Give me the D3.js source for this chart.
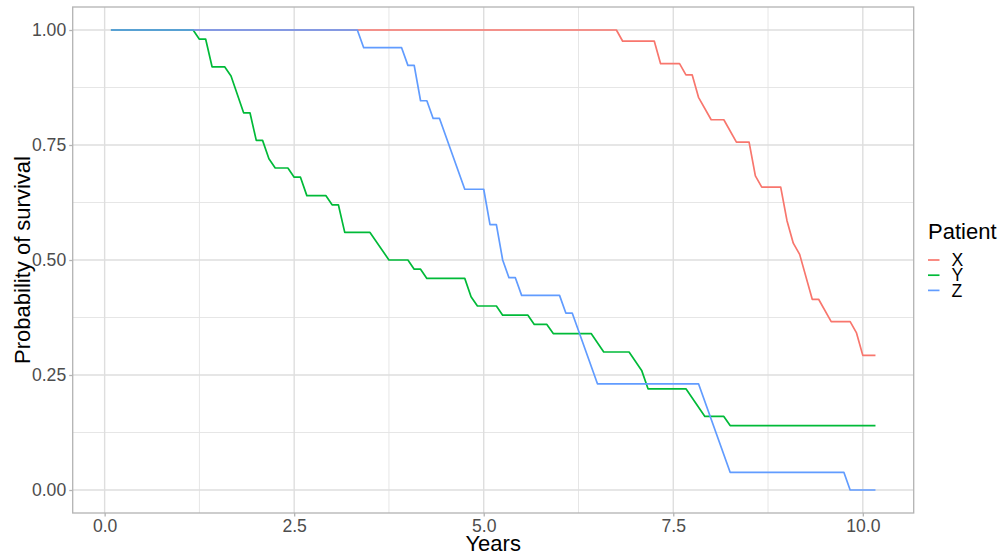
<!DOCTYPE html>
<html>
<head>
<meta charset="utf-8">
<script src="https://cdn.jsdelivr.net/npm/d3@7"></script>
<style>
  html, body { margin: 0; padding: 0; background: #fff; }
  svg { display: block; font-family: "Liberation Sans", Arial, Helvetica, sans-serif; }
</style>
</head>
<body>
<svg id="chart" width="1002" height="554"></svg>
<script>
// ---- Data ----
const patients = ["X", "Y", "Z"];
const colors = ["#F8766D", "#00BA38", "#619CFF"];

// Patient X
const timeX = [0.083, 6.75, 6.833, 7.25, 7.333, 7.583, 7.667, 7.75, 7.833, 8.0, 8.167, 8.333, 8.5, 8.583, 8.667, 8.917, 9.0, 9.083, 9.167, 9.333, 9.417, 9.583, 9.833, 9.917, 10.0, 10.167];
const survX = [1.0, 1.0, 0.9756, 0.9756, 0.9268, 0.9268, 0.9024, 0.9024, 0.8537, 0.8049, 0.8049, 0.7561, 0.7561, 0.6829, 0.6585, 0.6585, 0.5854, 0.5366, 0.5122, 0.4146, 0.4146, 0.3659, 0.3659, 0.3415, 0.2927, 0.2927];

// Patient Y
const timeY = [0.083, 1.167, 1.25, 1.333, 1.417, 1.583, 1.667, 1.833, 1.917, 2.0, 2.083, 2.167, 2.25, 2.417, 2.5, 2.583, 2.667, 2.917, 3.0, 3.083, 3.167, 3.5, 3.75, 4.0, 4.083, 4.167, 4.25, 4.75, 4.833, 4.917, 5.167, 5.25, 5.583, 5.667, 5.833, 5.917, 6.417, 6.583, 6.917, 7.083, 7.167, 7.667, 7.917, 8.167, 8.25, 10.167];
const survY = [1.0, 1.0, 0.98, 0.98, 0.92, 0.92, 0.90, 0.82, 0.82, 0.76, 0.76, 0.72, 0.70, 0.70, 0.68, 0.68, 0.64, 0.64, 0.62, 0.62, 0.56, 0.56, 0.50, 0.50, 0.48, 0.48, 0.46, 0.46, 0.42, 0.40, 0.40, 0.38, 0.38, 0.36, 0.36, 0.34, 0.34, 0.30, 0.30, 0.26, 0.22, 0.22, 0.16, 0.16, 0.14, 0.14];

// Patient Z
const timeZ = [0.083, 3.333, 3.417, 3.917, 4.0, 4.083, 4.167, 4.25, 4.333, 4.417, 4.75, 5.0, 5.083, 5.167, 5.25, 5.333, 5.417, 5.5, 6.0, 6.083, 6.167, 6.5, 7.833, 8.25, 9.75, 9.833, 10.167];
const survZ = [1.0, 1.0, 0.9615, 0.9615, 0.9231, 0.9231, 0.8462, 0.8462, 0.8077, 0.8077, 0.6538, 0.6538, 0.5769, 0.5769, 0.50, 0.4615, 0.4615, 0.4231, 0.4231, 0.3846, 0.3846, 0.2308, 0.2308, 0.0385, 0.0385, 0.0, 0.0];

const xTicks = [0, 2.5, 5, 7.5, 10];
const xTickLabels = ["0.0", "2.5", "5.0", "7.5", "10.0"];
const xMinor = [1.25, 3.75, 6.25, 8.75];
const yTicks = [0, 0.25, 0.5, 0.75, 1.0];
const yTickLabels = ["0.00", "0.25", "0.50", "0.75", "1.00"];
const yMinor = [0.125, 0.375, 0.625, 0.875];

const xTitle = "Years";
const yTitle = "Probability of survival";
const legendTitle = "Patient";

// ---- Build series ----
const series = [
  { name: patients[0], color: colors[0], pts: timeX.map((t, i) => [t, survX[i]]) },
  { name: patients[1], color: colors[1], pts: timeY.map((t, i) => [t, survY[i]]) },
  { name: patients[2], color: colors[2], pts: timeZ.map((t, i) => [t, survZ[i]]) }
];

// ---- Layout ----
const panel = { left: 72.7, right: 913.7, top: 7, bottom: 513 };

const allT = timeX.concat(timeY, timeZ);
const tMin = d3.min(allT), tMax = d3.max(allT);
const tPad = (tMax - tMin) * 0.05;
const x = d3.scaleLinear().domain([tMin - tPad, tMax + tPad]).range([panel.left, panel.right]);
const y = d3.scaleLinear().domain([-0.05, 1.05]).range([panel.bottom, panel.top]);

const svg = d3.select("#chart");

// grid
const grid = svg.append("g");
grid.selectAll(".vminor").data(xMinor).enter().append("line")
  .attr("x1", d => x(d)).attr("x2", d => x(d))
  .attr("y1", panel.top).attr("y2", panel.bottom)
  .attr("stroke", "#E3E3E3").attr("stroke-width", 0.9);
grid.selectAll(".hminor").data(yMinor).enter().append("line")
  .attr("y1", d => y(d)).attr("y2", d => y(d))
  .attr("x1", panel.left).attr("x2", panel.right)
  .attr("stroke", "#E3E3E3").attr("stroke-width", 0.9);
grid.selectAll(".vmajor").data(xTicks).enter().append("line")
  .attr("x1", d => x(d)).attr("x2", d => x(d))
  .attr("y1", panel.top).attr("y2", panel.bottom)
  .attr("stroke", "#DEDEDE").attr("stroke-width", 1.4);
grid.selectAll(".hmajor").data(yTicks).enter().append("line")
  .attr("y1", d => y(d)).attr("y2", d => y(d))
  .attr("x1", panel.left).attr("x2", panel.right)
  .attr("stroke", "#DEDEDE").attr("stroke-width", 1.4);

// lines
const line = d3.line().x(d => x(d[0])).y(d => y(d[1]));
svg.append("g").selectAll("path").data(series).enter().append("path")
  .attr("d", d => line(d.pts))
  .attr("fill", "none")
  .attr("stroke", d => d.color)
  .attr("stroke-width", 1.7)
  .attr("stroke-linejoin", "round");

// panel border
svg.append("rect")
  .attr("x", panel.left).attr("y", panel.top)
  .attr("width", panel.right - panel.left).attr("height", panel.bottom - panel.top)
  .attr("fill", "none").attr("stroke", "#B3B3B3").attr("stroke-width", 1.3);

// axes
const xAxis = d3.axisBottom(x).tickValues(xTicks).tickFormat((d, i) => xTickLabels[i]).tickSize(3.5).tickPadding(3);
const gx = svg.append("g").attr("transform", `translate(0,${panel.bottom})`).call(xAxis);
gx.select(".domain").remove();
gx.selectAll(".tick line").attr("stroke", "#B3B3B3").attr("stroke-width", 1.3);
gx.selectAll(".tick text").attr("fill", "#4D4D4D").style("font-size", "17.6px")
  .style("font-family", "'Liberation Sans', Arial, sans-serif");

const yAxis = d3.axisLeft(y).tickValues(yTicks).tickFormat((d, i) => yTickLabels[i]).tickSize(3.5).tickPadding(3);
const gy = svg.append("g").attr("transform", `translate(${panel.left},0)`).call(yAxis);
gy.select(".domain").remove();
gy.selectAll(".tick line").attr("stroke", "#B3B3B3").attr("stroke-width", 1.3);
gy.selectAll(".tick text").attr("fill", "#4D4D4D").style("font-size", "17.6px")
  .style("font-family", "'Liberation Sans', Arial, sans-serif");

// titles
svg.append("text").text(xTitle)
  .attr("x", (panel.left + panel.right) / 2).attr("y", 551)
  .attr("text-anchor", "middle").attr("fill", "#000").style("font-size", "22px");
svg.append("text").text(yTitle)
  .attr("transform", `translate(30,${(panel.top + panel.bottom) / 2}) rotate(-90)`)
  .attr("text-anchor", "middle").attr("fill", "#000").style("font-size", "22px");

// legend
const lg = svg.append("g");
lg.append("text").text(legendTitle).attr("x", 928).attr("y", 239.3)
  .attr("fill", "#000").style("font-size", "22px");
const keyY = [260, 275.2, 290.4];
series.forEach((s, i) => {
  lg.append("line").attr("x1", 928).attr("x2", 939.5)
    .attr("y1", keyY[i]).attr("y2", keyY[i])
    .attr("stroke", s.color).attr("stroke-width", 1.7);
  lg.append("text").text(s.name).attr("x", 951.5).attr("y", keyY[i])
    .attr("dy", "0.35em").attr("fill", "#000").style("font-size", "17.6px");
});
</script>
</body>
</html>
